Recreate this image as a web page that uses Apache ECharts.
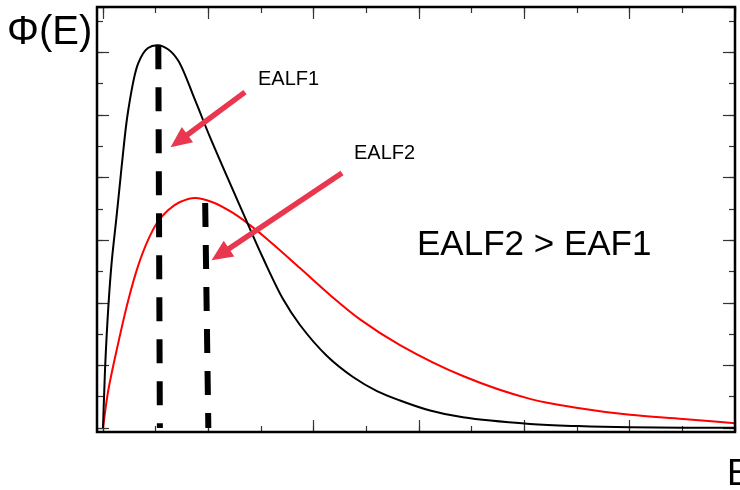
<!DOCTYPE html>
<html>
<head>
<meta charset="utf-8">
<script src="https://cdn.jsdelivr.net/npm/echarts@6/dist/echarts.min.js"></script>
<style>
  html, body { margin: 0; padding: 0; background: #fff; }
  #chart { width: 740px; height: 490px; }
</style>
</head>
<body>
<div id="chart"></div>
<script>
// Neutron flux spectra Φ(E): two spectra with different average lethargy energies.
// Energy in axis-tick units, flux in arbitrary units.
const blackE   = [0, 0.038, 0.101, 0.165, 0.260, 0.355, 0.480, 0.670, 0.854, 1.044, 1.234, 1.424, 1.747, 2.032, 2.658, 3.038, 3.418, 3.740, 4.253, 4.747, 5.202, 5.639, 6.21, 6.835, 8.107, 9.018, 10.006, 11.012, 12.0];
const blackPhi = [0, 1.85, 3.86, 5.30, 6.80, 8.37, 10.16, 11.66, 12.14, 12.23, 12.10, 11.75, 10.48, 9.29, 6.87, 5.43, 4.12, 3.29, 2.30, 1.63, 1.18, 0.88, 0.56, 0.34, 0.13, 0.06, 0.02, 0.01, 0.006];

const redE   = [0, 0.095, 0.285, 0.475, 0.665, 0.854, 1.025, 1.234, 1.462, 1.747, 2.069, 2.468, 2.791, 3.114, 3.740, 4.310, 4.880, 5.639, 6.835, 8.107, 9.018, 10.006, 11.012, 12.0];
const redPhi = [0, 1.15, 2.68, 4.05, 5.17, 6.00, 6.55, 6.96, 7.22, 7.35, 7.22, 6.87, 6.48, 6.04, 5.11, 4.25, 3.47, 2.65, 1.66, 0.93, 0.64, 0.42, 0.29, 0.15];

// Dashed markers for EALF1 and EALF2: [energy at top, energy at bottom, flux at top]
const ealf1Line = [1.05, 1.08, 12.23];
const ealf2Line = [1.94, 2.00, 7.19];

// Annotation arrows: [tailE, tailPhi, headE, headPhi]
const arrow1 = [2.696, 10.73, 1.443, 9.17];
const arrow2 = [4.538, 8.144, 2.227, 5.545];

const xMin = 0, xMax = 12;
const yMin = 0, yMax = 13.45;

const pairs = (xs, ys) => xs.map((x, i) => [x, ys[i]]);

const arrowColor = '#e8374f';
const font = '"Liberation Sans", Arial, sans-serif';

// Centripetal Catmull-Rom through pixel points, written as cubic Bezier segments.
function splinePath(p) {
  const n = p.length;
  const dist = (a, b) => Math.pow(Math.hypot(b[0] - a[0], b[1] - a[1]), 0.5);
  let d = 'M' + p[0][0] + ' ' + p[0][1];
  for (let i = 0; i < n - 1; i++) {
    const p0 = p[Math.max(i - 1, 0)], p1 = p[i], p2 = p[i + 1], p3 = p[Math.min(i + 2, n - 1)];
    const d1 = dist(p0, p1), d2 = dist(p1, p2), d3 = dist(p2, p3);
    let b1, b2;
    if (d1 < 1e-6) {
      b1 = [p1[0] + (p2[0] - p1[0]) / 3, p1[1] + (p2[1] - p1[1]) / 3];
    } else {
      const a = d1 * d1, b = d2 * d2, c = 2 * a + 3 * d1 * d2 + b, m = 3 * d1 * (d1 + d2);
      b1 = [(a * p2[0] - b * p0[0] + c * p1[0]) / m, (a * p2[1] - b * p0[1] + c * p1[1]) / m];
    }
    if (d3 < 1e-6) {
      b2 = [p2[0] - (p2[0] - p1[0]) / 3, p2[1] - (p2[1] - p1[1]) / 3];
    } else {
      const a = d3 * d3, b = d2 * d2, c = 2 * a + 3 * d3 * d2 + b, m = 3 * d3 * (d3 + d2);
      b2 = [(a * p1[0] - b * p3[0] + c * p2[0]) / m, (a * p1[1] - b * p3[1] + c * p2[1]) / m];
    }
    d += ' C' + b1[0] + ' ' + b1[1] + ' ' + b2[0] + ' ' + b2[1] + ' ' + p2[0] + ' ' + p2[1];
  }
  return d;
}

function spectrumSeries(name, xs, ys, color) {
  const pts = pairs(xs, ys);
  return {
    name: name,
    type: 'custom',
    data: pts,
    encode: { x: 0, y: 1 },
    silent: true,
    renderItem: function (params, api) {
      if (params.dataIndex !== 0) return;
      const px = pts.map(function (v) { return api.coord(v); });
      return {
        type: 'path',
        shape: { pathData: splinePath(px) },
        style: { stroke: color, lineWidth: 2, fill: null }
      };
    }
  };
}

function tickAxis(position, interval, len, offset, isX) {
  return {
    type: 'value',
    position: position,
    min: isX ? xMin : yMin,
    max: isX ? xMax : yMax,
    interval: interval,
    offset: offset,
    axisLine: { show: false, onZero: false },
    axisTick: { show: true, inside: true, length: len, lineStyle: { color: '#333', width: 1.2 } },
    axisLabel: { show: false },
    splitLine: { show: false },
    minorTick: { show: false }
  };
}

const chart = echarts.init(document.getElementById('chart'), null, { renderer: 'canvas' });

chart.setOption({
  animation: false,
  backgroundColor: '#fff',
  grid: { left: 103, right: 5, top: 7, bottom: 62, outerBoundsMode: 'none' },
  xAxis: [
    tickAxis('bottom', 2, 12, 4, true),
    tickAxis('bottom', 1, 6, 4, true),
    tickAxis('top', 2, 12, 0, true),
    tickAxis('top', 1, 6, 0, true)
  ],
  yAxis: [
    tickAxis('left', 2, 12, 6, false),
    tickAxis('left', 1, 6, 6, false),
    tickAxis('right', 2, 12, 0, false),
    tickAxis('right', 1, 6, 0, false)
  ],
  series: [
    spectrumSeries('EALF2 spectrum', redE, redPhi, '#ff0000'),
    spectrumSeries('EALF1 spectrum', blackE, blackPhi, '#000000'),
    {
      name: 'EALF1',
      type: 'line',
      data: [[ealf1Line[0], ealf1Line[2]], [ealf1Line[1], 0]],
      showSymbol: false,
      lineStyle: { color: '#000', width: 6, type: [24, 18], cap: 'butt' },
      silent: true,
      z: 3
    },
    {
      name: 'EALF2',
      type: 'line',
      data: [[ealf2Line[0], ealf2Line[2]], [ealf2Line[1], 0]],
      showSymbol: false,
      lineStyle: { color: '#000', width: 6, type: [24, 18], cap: 'butt' },
      silent: true,
      z: 3,
      markLine: {
        silent: true,
        animation: false,
        symbol: ['none', 'triangle'],
        symbolSize: [19, 21],
        label: { show: false },
        lineStyle: { color: arrowColor, width: 5.5, type: 'solid', cap: 'butt' },
        data: [
          [{ coord: [arrow1[0], arrow1[1]] }, { coord: [arrow1[2], arrow1[3]] }],
          [{ coord: [arrow2[0], arrow2[1]] }, { coord: [arrow2[2], arrow2[3]] }]
        ]
      }
    }
  ],
  graphic: [
    {
      type: 'rect',
      shape: { x: 97, y: 7, width: 638, height: 425 },
      style: { fill: null, stroke: '#000', lineWidth: 2.5 },
      silent: true,
      z: 100
    },
    { type: 'text', x: 7, y: 33, style: { text: 'Φ(E)', font: '40px ' + font, fill: '#000', verticalAlign: 'middle' } },
    { type: 'text', x: 258, y: 79.5, style: { text: 'EALF1', font: '20px ' + font, fill: '#000', verticalAlign: 'middle' } },
    { type: 'text', x: 354, y: 153.5, style: { text: 'EALF2', font: '20px ' + font, fill: '#000', verticalAlign: 'middle' } },
    { type: 'text', x: 417, y: 245.5, style: { text: 'EALF2 > EAF1', font: '35px ' + font, fill: '#000', verticalAlign: 'middle' } },
    { type: 'text', x: 727, y: 475, style: { text: 'E', font: '36px ' + font, fill: '#000', verticalAlign: 'middle' } }
  ]
});
</script>
</body>
</html>
